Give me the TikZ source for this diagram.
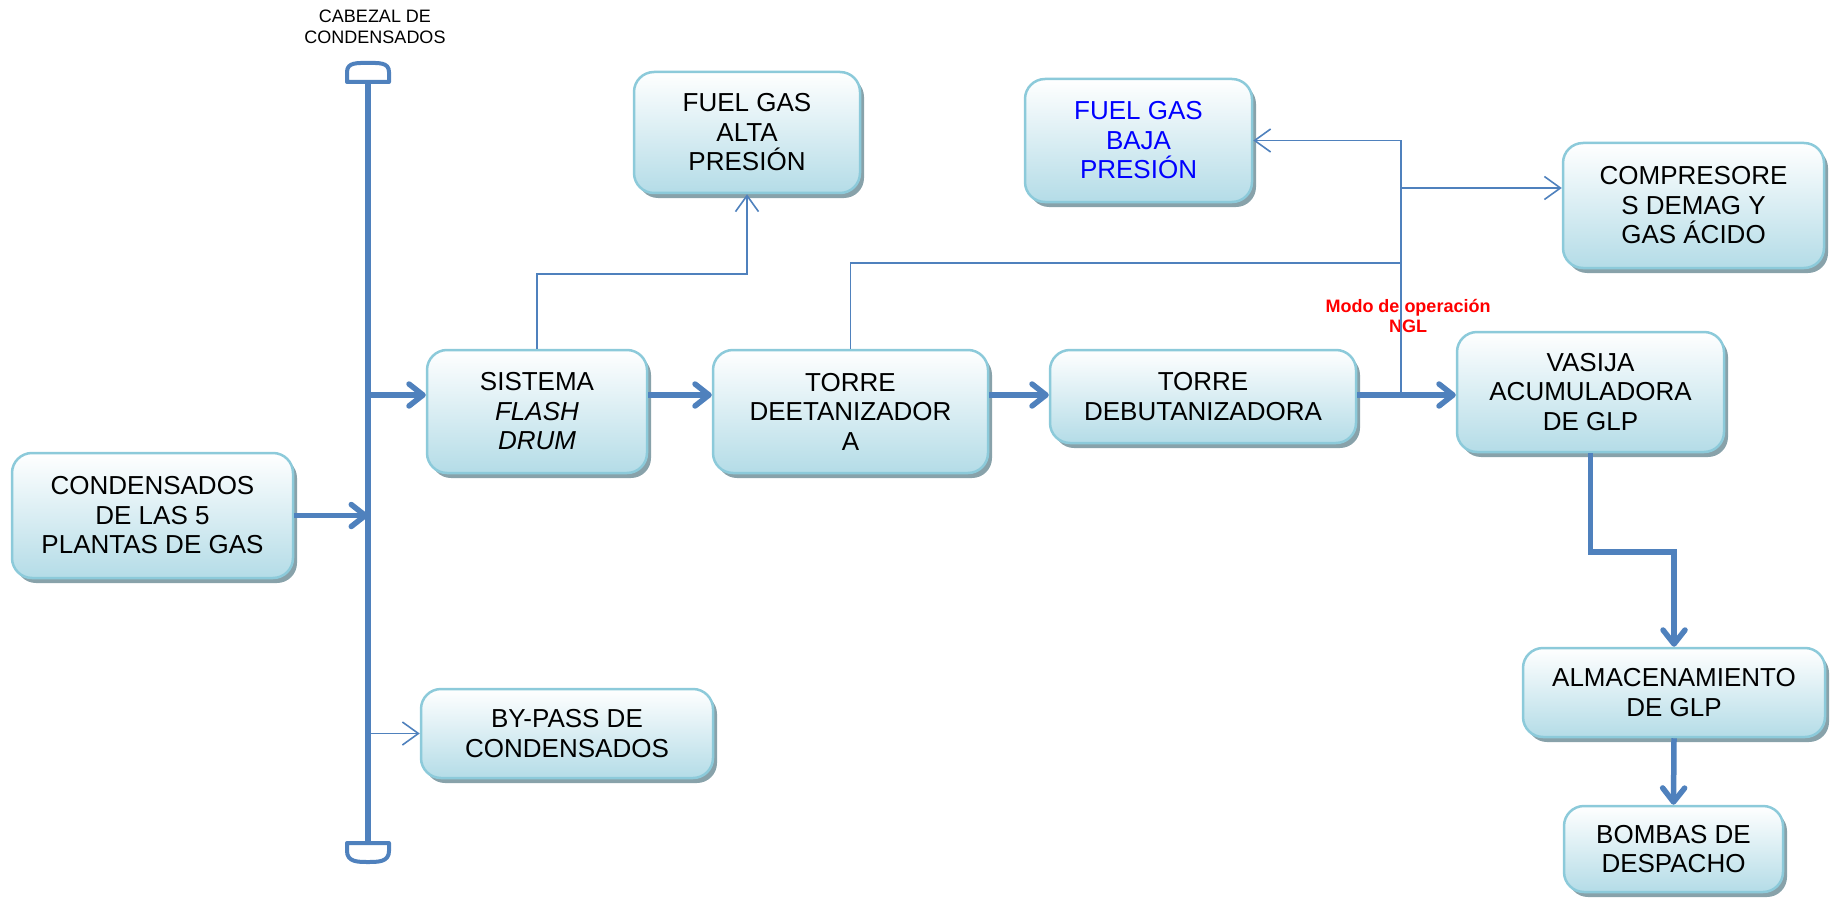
\documentclass[tikz,border=0pt]{standalone}
\usepackage{fontspec}
\setmainfont{Liberation Sans}
\usetikzlibrary{arrows.meta,shadows,calc}
\definecolor{flow}{RGB}{79,129,189}
\definecolor{edgec}{RGB}{140,202,218}
\definecolor{fillb}{RGB}{180,220,231}
\definecolor{shad}{RGB}{136,162,170}
\definecolor{fgblue}{RGB}{0,0,255}
\definecolor{modored}{RGB}{255,0,0}
\tikzset{
  box/.style={draw=edgec, line width=2.5pt, rounded corners=20pt,
    top color=white, bottom color=fillb,
    drop shadow={shadow xshift=4pt, shadow yshift=-5pt, fill=shad, opacity=1},
    inner sep=0pt, align=center, font=\fontsize{26}{29.5}\selectfont},
  bigarrow/.style={draw=flow, line width=5.5pt, -{Straight Barb[length=14pt,width=22pt,round]}},
  thinarrow/.style={draw=flow, line width=1.6pt, -{Straight Barb[length=16pt,width=23pt]}},
  thinline/.style={draw=flow, line width=1.6pt},
  headline/.style={draw=flow, line width=5.5pt},
  capst/.style={draw=flow, line width=4pt, fill=white, line join=round},
  cablab/.style={inner sep=0pt, align=center, font=\fontsize{18}{21}\selectfont},
  modolab/.style={inner sep=0pt, align=center, text=modored, font=\fontsize{18}{20}\selectfont\bfseries}
}
\begin{document}
\begin{tikzpicture}[x=1pt,y=-1pt]
\useasboundingbox (0,0) rectangle (1835,904);

% labels (drawn first so lines pass over them)
\node[cablab, anchor=north] (cab) at (375,10) {CABEZAL DE\\CONDENSADOS};
\node[modolab, anchor=north] (modo) at (1408,299) {Modo de operación\\NGL};

% boxes
\node[box, minimum width=281pt, minimum height=125pt] (cond) at (152.5,515.5) {CONDENSADOS\\DE LAS 5\\PLANTAS DE GAS};
\node[box, minimum width=220pt, minimum height=123pt] (sist) at (537,411.5) {SISTEMA\\\textit{FLASH}\\\textit{DRUM}};
\node[box, minimum width=275pt, minimum height=123pt] (deet) at (850.5,411.5) {TORRE\\DEETANIZADOR\\A};
\node[box, minimum width=306pt, minimum height=93pt] (debut) at (1203,396.5) {TORRE\\DEBUTANIZADORA};
\node[box, minimum width=267pt, minimum height=120pt] (vasija) at (1590.5,392) {VASIJA\\ACUMULADORA\\DE GLP};
\node[box, minimum width=226pt, minimum height=121pt] (fgalta) at (747,132.5) {FUEL GAS\\ALTA\\PRESIÓN};
\node[box, minimum width=227pt, minimum height=123pt, text=fgblue] (fgbaja) at (1138.5,140.5) {FUEL GAS\\BAJA\\PRESIÓN};
\node[box, minimum width=261pt, minimum height=125pt] (comp) at (1693.5,205.5) {COMPRESORE\\S DEMAG Y\\GAS ÁCIDO};
\node[box, minimum width=302pt, minimum height=89pt] (alm) at (1674,692.5) {ALMACENAMIENTO\\DE GLP};
\node[box, minimum width=219pt, minimum height=86pt] (bombas) at (1673.5,849) {BOMBAS DE\\DESPACHO};
\node[box, minimum width=292pt, minimum height=89pt] (bypass) at (567,733.5) {BY-PASS DE\\CONDENSADOS};

% header
\coordinate (htop) at (368,80);
\coordinate (hbot) at (368,845);
\draw[headline] (htop) -- (hbot);
\draw[capst] (347,82) -- (347,72) .. controls (347,62) and (358,63) .. (368,63) .. controls (378,63) and (389,62) .. (389,72) -- (389,82) -- cycle;
\draw[capst] (347,843) -- (347,851) .. controls (347,862) and (358,862) .. (368,862) .. controls (378,862) and (389,862) .. (389,851) -- (389,843) -- cycle;

% helper coordinates
\coordinate (fy) at (0,395);
\coordinate (ay) at (0,274);
\coordinate (by) at (0,263);
\coordinate (jx) at (1401,0);
\coordinate (ky) at (0,188);
\coordinate (ey) at (0,552);

% thin connectors
\draw[thinarrow] (htop |- bypass.west) -- (bypass.west);
\draw[thinarrow] (sist.north) -- (sist.north |- ay) -| (fgalta.south);
\draw[thinline] (deet.north) -- (deet.north |- by) -- (jx |- by);
\draw[thinarrow] (jx |- fy) -- (jx |- fgbaja.east) -- (fgbaja.east);
\draw[thinarrow] (jx |- ky) -- (comp.west |- ky);

% thick connectors
\draw[bigarrow] (cond.east) -- (cond.east -| htop);
\draw[bigarrow] (htop |- fy) -- (sist.west |- fy);
\draw[bigarrow] (sist.east |- fy) -- (deet.west |- fy);
\draw[bigarrow] (deet.east |- fy) -- (debut.west |- fy);
\draw[bigarrow] (debut.east |- fy) -- (vasija.west |- fy);
\draw[bigarrow] (vasija.south) -- (vasija.south |- ey) -| (alm.north);
\draw[bigarrow] (alm.south) -- (bombas.north);
\end{tikzpicture}
\end{document}
